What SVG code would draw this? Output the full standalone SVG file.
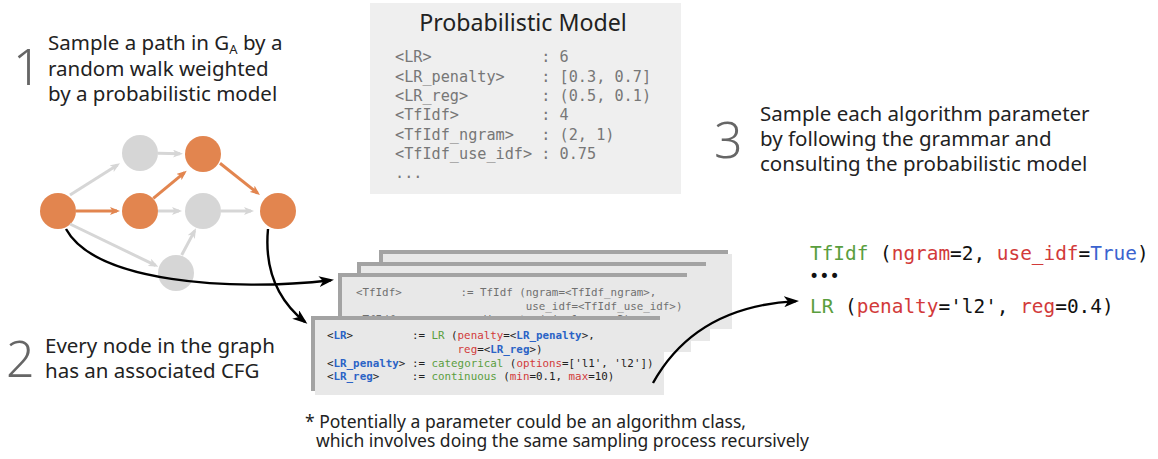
<svg xmlns="http://www.w3.org/2000/svg" width="1158" height="459" viewBox="0 0 1158 459">
  <style>
    .sans { font-family: "Noto Sans", "Open Sans", "DejaVu Sans", sans-serif; }
    .mono { font-family: "DejaVu Sans Mono", "Liberation Mono", monospace; white-space: pre; }
    .num { font-family: "Noto Sans", "Open Sans", sans-serif; font-size: 50px; fill: #666666; font-weight: 300; }
    .step { font-size: 20.5px; fill: #222222; }
    .gnode { fill: #D6D6D6; }
    .onode { fill: #E2854F; }
    .gedge { stroke: #D6D6D6; stroke-width: 3; fill: none; }
    .oedge { stroke: #E2854F; stroke-width: 3; fill: none; }
    .curve { stroke: #000000; stroke-width: 2.4; fill: none; }
    .shade { fill: #A3A3A3; }
    .paper { fill: #E8E8E8; }
    .cfg { font-size: 10.85px; fill: #222222; }
    .dim { fill: #707070; }
    .nt { fill: #2B63C6; font-weight: bold; }
    .kw { fill: #5A9E3E; }
    .arg { fill: #D23A3A; }
    .val { fill: #3A63CF; }
  </style>
  <defs>
    <marker id="arrowGray" markerUnits="userSpaceOnUse" markerWidth="10" markerHeight="8" refX="7" refY="4" orient="auto">
      <path d="M0,0 L10,4 L0,8 L2.5,4 z" fill="#D6D6D6"/>
    </marker>
    <marker id="arrowOrange" markerUnits="userSpaceOnUse" markerWidth="10" markerHeight="8" refX="7" refY="4" orient="auto">
      <path d="M0,0 L10,4 L0,8 L2.5,4 z" fill="#E2854F"/>
    </marker>
    <marker id="arrowBlack" markerUnits="userSpaceOnUse" markerWidth="15" markerHeight="11" refX="12" refY="5.5" orient="auto">
      <path d="M0,0 L15,5.5 L0,11 L4,5.5 z" fill="#000000"/>
    </marker>
  </defs>

  <rect width="1158" height="459" fill="#FFFFFF"/>

  <!-- step captions -->
  <g id="step1">
    <text class="num" x="13" y="85">1</text>
    <text class="sans step" x="48" y="50">Sample a path in G<tspan font-size="13" dy="4">A</tspan><tspan dy="-4"> by a</tspan></text>
    <text class="sans step" x="48" y="76">random walk weighted</text>
    <text class="sans step" x="48" y="101">by a probabilistic model</text>
  </g>
  <g id="step2">
    <text class="num" x="6" y="377">2</text>
    <text class="sans step" x="45" y="353">Every node in the graph</text>
    <text class="sans step" x="45" y="378">has an associated CFG</text>
  </g>
  <g id="step3">
    <text class="num" x="714" y="158">3</text>
    <text class="sans step" x="760" y="121">Sample each algorithm parameter</text>
    <text class="sans step" x="760" y="146">by following the grammar and</text>
    <text class="sans step" x="760" y="171">consulting the probabilistic model</text>
  </g>

  <!-- probabilistic model table -->
  <g id="model">
    <rect x="370" y="3" width="311" height="191" fill="#EFEFEF"/>
    <text class="sans" x="523" y="31" font-size="23.2" fill="#222222" text-anchor="middle">Probabilistic Model</text>
    <g class="mono" font-size="15.2" fill="#777777">
      <text x="395" y="62" xml:space="preserve">&lt;LR&gt;            : 6</text>
      <text x="395" y="81.5" xml:space="preserve">&lt;LR_penalty&gt;    : [0.3, 0.7]</text>
      <text x="395" y="101" xml:space="preserve">&lt;LR_reg&gt;        : (0.5, 0.1)</text>
      <text x="395" y="120" xml:space="preserve">&lt;TfIdf&gt;         : 4</text>
      <text x="395" y="139.5" xml:space="preserve">&lt;TfIdf_ngram&gt;   : (2, 1)</text>
      <text x="395" y="159" xml:space="preserve">&lt;TfIdf_use_idf&gt; : 0.75</text>
      <text x="395" y="178" xml:space="preserve">...</text>
    </g>
  </g>

  <!-- search graph nodes -->
  <g id="nodeA"><circle class="onode" cx="58" cy="211" r="18"/></g>
  <g id="nodeB"><circle class="gnode" cx="140" cy="153" r="18"/></g>
  <g id="nodeC"><circle class="onode" cx="203" cy="154" r="18"/></g>
  <g id="nodeD"><circle class="onode" cx="140" cy="211" r="18"/></g>
  <g id="nodeE"><circle class="gnode" cx="203" cy="211" r="18"/></g>
  <g id="nodeF"><circle class="onode" cx="278" cy="211" r="18"/></g>
  <g id="nodeG"><circle class="gnode" cx="176" cy="273" r="18"/></g>

  <!-- stacked grammar cards, back to front -->
  <g id="card1">
    <rect class="shade" x="379" y="250" width="349" height="75"/>
    <rect class="paper" x="383" y="254" width="349" height="75"/>
  </g>
  <g id="card2">
    <rect class="shade" x="357" y="262" width="349" height="75"/>
    <rect class="paper" x="361" y="266" width="349" height="75"/>
  </g>
  <g id="card3">
    <rect class="shade" x="338" y="273" width="349" height="75"/>
    <rect class="paper" x="342" y="277" width="349" height="75"/>
    <g class="mono cfg dim">
      <text x="356" y="296" xml:space="preserve">&lt;TfIdf&gt;         := TfIdf (ngram=&lt;TfIdf_ngram&gt;,</text>
      <text x="356" y="310" xml:space="preserve">                          use_idf=&lt;TfIdf_use_idf&gt;)</text>
      <text x="356" y="323" xml:space="preserve">&lt;TfIdf_ngram&gt;   := discrete (min=1, max=3)</text>
    </g>
  </g>
  <g id="card4">
    <rect class="shade" x="311" y="316" width="349" height="75"/>
    <rect class="paper" x="315" y="320" width="349" height="75"/>
    <g class="mono cfg">
      <text x="327" y="339" xml:space="preserve">&lt;<tspan class="nt">LR</tspan>&gt;         := <tspan class="kw">LR</tspan> (<tspan class="arg">penalty</tspan>=&lt;<tspan class="nt">LR_penalty</tspan>&gt;,</text>
      <text x="327" y="353" xml:space="preserve">                    <tspan class="arg">reg</tspan>=&lt;<tspan class="nt">LR_reg</tspan>&gt;)</text>
      <text x="327" y="367" xml:space="preserve">&lt;<tspan class="nt">LR_penalty</tspan>&gt; := <tspan class="kw">categorical</tspan> (<tspan class="arg">options</tspan>=['l1', 'l2'])</text>
      <text x="327" y="380" xml:space="preserve">&lt;<tspan class="nt">LR_reg</tspan>&gt;     := <tspan class="kw">continuous</tspan> (<tspan class="arg">min</tspan>=0.1, <tspan class="arg">max</tspan>=10)</text>
    </g>
  </g>

  <!-- sampled result -->
  <g id="result" class="mono" font-size="19.4" fill="#111111">
    <text x="810" y="260" xml:space="preserve"><tspan class="kw">TfIdf</tspan> (<tspan class="arg">ngram</tspan>=2, <tspan class="arg">use_idf</tspan>=<tspan class="val">True</tspan>)</text>
    <text x="809" y="282" font-size="17">•••</text>
    <text x="810" y="313" xml:space="preserve"><tspan class="kw">LR</tspan> (<tspan class="arg">penalty</tspan>='l2', <tspan class="arg">reg</tspan>=0.4)</text>
  </g>

  <!-- footnote -->
  <g id="footnote" class="sans" font-size="17.5" fill="#222222">
    <text x="305" y="428">* Potentially a parameter could be an algorithm class,</text>
    <text x="316" y="447">which involves doing the same sampling process recursively</text>
  </g>

  <!-- connectors -->
  <g id="connectors">
    <line class="gedge" x1="70" y1="195" x2="117.5" y2="164.9" marker-end="url(#arrowGray)"/>
    <line class="gedge" x1="158" y1="153.3" x2="180" y2="153.8" marker-end="url(#arrowGray)"/>
    <line class="gedge" x1="158" y1="211" x2="179" y2="211" marker-end="url(#arrowGray)"/>
    <line class="gedge" x1="221" y1="211" x2="251" y2="211" marker-end="url(#arrowGray)"/>
    <line class="gedge" x1="70" y1="224" x2="155.6" y2="265.4" marker-end="url(#arrowGray)"/>
    <line class="gedge" x1="181.7" y1="255" x2="194.6" y2="230.9" marker-end="url(#arrowGray)"/>
    <line class="oedge" x1="76" y1="211" x2="117" y2="211" marker-end="url(#arrowOrange)"/>
    <line class="oedge" x1="153.3" y1="198.3" x2="184.4" y2="172.6" marker-end="url(#arrowOrange)"/>
    <line class="oedge" x1="220" y1="163.3" x2="257.6" y2="193.1" marker-end="url(#arrowOrange)"/>
    <path class="curve" d="M66,229 C95,282 230,292 331,280.2" marker-end="url(#arrowBlack)"/>
    <path class="curve" d="M268,229 C264,272 280,302 305,322" marker-end="url(#arrowBlack)"/>
    <path class="curve" d="M653,383 C678,338 722,305 796,301.1" marker-end="url(#arrowBlack)"/>
  </g>
</svg>
